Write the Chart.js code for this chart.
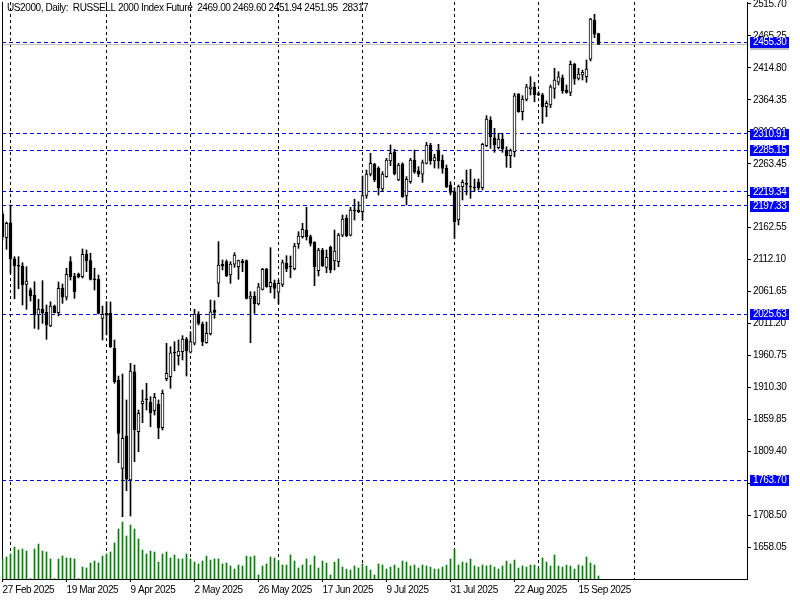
<!DOCTYPE html>
<html>
<head>
<meta charset="utf-8">
<script src="https://cdn.jsdelivr.net/npm/chart.js@4.4.1/dist/chart.umd.min.js"></script>
<style>
html,body{margin:0;padding:0;background:#ffffff;}
#wrap{width:800px;height:600px;position:relative;}
canvas{display:block;}
</style>
</head>
<body>
<div id="wrap"><canvas id="c" width="800" height="600"></canvas></div>
<script>
// ---------------- data ----------------
const chartTitle = 'US2000, Daily:  RUSSELL 2000 Index Future  2469.00 2469.60 2451.94 2451.95  28317';

const xTickBars   = [0, 16, 32, 48, 64, 80, 96, 112, 128, 144];
const xTickLabels = ['27 Feb 2025', '19 Mar 2025', '9 Apr 2025', '2 May 2025', '26 May 2025',
                     '17 Jun 2025', '9 Jul 2025', '31 Jul 2025', '22 Aug 2025', '15 Sep 2025'];
const periodGridBars = [2, 26, 47, 69, 90, 113, 134, 158];

const yTicks = [1658.05, 1708.50, 1758.95, 1809.40, 1859.85, 1910.30, 1960.75, 2011.20, 2061.65,
                2112.10, 2162.55, 2213.00, 2263.45, 2313.90, 2364.35, 2414.80, 2465.25, 2515.70];

const levelPrices = [2455.30, 2310.91, 2285.15, 2219.34, 2197.33, 2025.63, 1763.70];
const bidPrice = 2451.95;

const opens = [
2184.2,2146.8,2170.4,2113.6,2103.0,2102.1,2073.2,2064.2,2056.3,2024.7,
2034.2,2029.0,2007.4,2038.9,2028.4,2066.9,2052.7,2108.9,2086.3,2089.5,
2085.2,2120.6,2110.5,2081.1,2081.1,2019.5,2027.4,2027.4,1972.2,1922.1,
1782.7,1833.7,1764.3,1935.2,1840.5,1884.7,1891.7,1887.4,1873.7,1884.2,
1846.8,1924.2,1927.3,1965.2,1960.5,1966.8,1986.9,1965.9,1980.1,2026.3,
2010.5,1981.0,1994.7,2032.6,2074.8,2104.8,2108.9,2087.9,2104.8,2101.0,
2110.0,2110.5,2051.1,2054.7,2042.1,2065.3,2097.4,2069.4,2075.3,2060.6,
2073.2,2106.4,2101.0,2097.8,2136.8,2148.4,2158.9,2148.4,2139.5,2094.7,
2127.4,2100.0,2131.6,2110.0,2108.9,2150.6,2177.4,2150.6,2189.4,2190.5,
2187.8,2213.7,2246.9,2263.1,2256.3,2223.6,2243.1,2267.8,2282.5,2237.9,
2263.1,2212.6,2235.2,2269.4,2252.5,2246.9,2264.2,2293.1,2267.8,2283.6,
2269.4,2256.3,2229.9,2219.4,2174.7,2227.3,2231.5,2227.3,2225.7,2234.2,
2225.7,2292.0,2332.6,2304.6,2288.8,2302.6,2285.2,2276.2,2282.5,2373.1,
2345.7,2365.2,2381.5,2384.7,2373.1,2372.0,2353.6,2356.2,2382.6,2392.1,
2399.3,2379.9,2376.3,2420.5,2398.4,2403.6,2400.9,2428.4,2490.4,2469.00];

const highs = [
2188.9,2171.6,2198.4,2116.8,2116.8,2107.3,2101.0,2067.4,2077.3,2049.5,
2078.9,2040.5,2045.7,2040.5,2076.8,2073.7,2098.5,2116.8,2090.6,2091.0,
2128.9,2127.4,2122.1,2098.5,2087.9,2038.9,2045.7,2045.3,1985.3,1928.4,
1931.6,1890.6,1948.5,1945.8,1874.8,1906.3,1916.9,1895.8,1901.1,1890.6,
1906.3,1980.1,1974.7,1982.6,1985.3,1992.1,1989.5,1998.4,2033.7,2029.9,
2013.7,2013.7,2048.4,2047.3,2140.5,2111.6,2111.6,2108.9,2123.1,2111.6,
2112.7,2111.6,2061.5,2061.5,2074.8,2098.5,2098.5,2131.0,2080.0,2080.0,
2111.6,2118.4,2117.9,2137.9,2156.2,2169.5,2194.8,2151.0,2140.5,2130.0,
2130.0,2127.4,2133.7,2158.9,2153.7,2182.6,2182.6,2194.8,2207.4,2203.6,
2244.2,2253.6,2280.0,2264.2,2258.8,2251.0,2272.1,2293.1,2286.3,2264.2,
2265.2,2243.1,2272.1,2285.2,2258.8,2269.4,2297.4,2295.8,2278.4,2294.2,
2277.3,2261.5,2235.2,2225.7,2229.9,2237.9,2253.6,2254.7,2239.4,2239.4,
2295.8,2339.4,2337.8,2319.5,2311.6,2311.6,2290.4,2286.8,2374.7,2374.7,
2370.9,2388.9,2400.9,2392.1,2377.2,2374.7,2362.6,2387.8,2414.2,2408.8,
2403.6,2387.8,2425.7,2422.1,2414.2,2411.5,2427.3,2493.1,2499.4,2469.60];

const lows = [
2143.1,2128.4,2090.6,2050.5,2066.3,2040.5,2033.7,2046.8,2003.7,2002.2,
2011.6,1986.4,2006.3,2027.9,2023.2,2043.2,2048.4,2080.0,2051.1,2083.1,
2083.1,2093.1,2080.0,2064.2,2026.3,1985.3,1993.2,1973.4,1916.9,1791.6,
1706.3,1747.4,1707.4,1793.2,1808.9,1854.7,1874.8,1848.4,1866.9,1829.5,
1843.2,1921.0,1909.0,1936.8,1945.8,1953.7,1928.4,1964.7,1977.4,2009.0,
1976.3,1980.1,1993.2,2019.5,2053.6,2095.8,2085.2,2074.8,2100.0,2081.1,
2093.1,2050.0,1981.0,2027.4,2040.5,2064.2,2068.5,2059.9,2051.1,2042.1,
2069.4,2093.1,2083.6,2095.8,2130.0,2146.0,2143.1,2133.7,2071.0,2086.3,
2101.0,2091.5,2091.5,2095.8,2101.0,2148.4,2148.4,2149.4,2174.7,2186.3,
2174.7,2209.0,2244.2,2235.2,2214.2,2219.4,2242.1,2260.4,2245.8,2236.7,
2210.5,2198.4,2232.6,2248.4,2243.1,2234.2,2263.1,2262.6,2256.8,2256.3,
2248.4,2225.7,2214.2,2146.0,2166.8,2206.3,2214.2,2209.0,2219.4,2222.1,
2222.1,2290.4,2287.9,2281.6,2286.8,2281.6,2257.9,2257.3,2274.6,2344.7,
2332.6,2362.6,2372.0,2361.5,2370.9,2327.4,2337.8,2352.0,2366.8,2387.8,
2374.7,2374.7,2370.9,2388.9,2395.7,2395.7,2392.1,2425.7,2462.5,2451.94];

const closes = [
2147.9,2169.5,2113.6,2102.1,2102.0,2072.1,2078.4,2054.7,2024.7,2034.2,
2028.4,2009.0,2038.9,2028.4,2066.9,2052.7,2089.0,2085.2,2061.5,2085.2,
2120.6,2110.5,2081.1,2080.3,2027.4,2025.8,2024.3,1974.7,1919.4,1838.0,
1830.1,1765.4,1936.3,1843.2,1869.6,1889.0,1891.0,1870.5,1894.8,1846.8,
1901.1,1932.7,1965.2,1964.7,1967.9,1986.9,1968.4,1982.6,2026.3,2011.6,
1982.6,1995.8,2029.9,2029.0,2103.7,2102.1,2086.8,2105.2,2119.5,2110.5,
2106.8,2051.1,2054.7,2042.1,2069.4,2096.9,2069.4,2076.4,2066.9,2074.8,
2107.3,2097.4,2100.5,2133.7,2149.4,2160.0,2148.4,2137.9,2101.0,2127.4,
2102.6,2115.8,2095.8,2125.8,2151.0,2176.3,2149.9,2190.5,2188.9,2187.4,
2213.1,2247.3,2264.2,2237.9,2225.7,2247.3,2269.4,2280.0,2247.3,2261.5,
2211.5,2238.9,2269.4,2251.0,2246.9,2265.2,2293.1,2268.3,2273.1,2268.3,
2256.3,2227.3,2218.4,2172.0,2227.3,2234.2,2231.0,2226.8,2225.2,2225.7,
2294.2,2334.1,2306.2,2293.1,2302.6,2286.8,2276.2,2284.1,2370.9,2345.7,
2365.7,2385.1,2385.1,2372.0,2372.6,2353.6,2358.9,2385.1,2395.7,2400.9,
2378.8,2376.3,2420.5,2397.3,2405.2,2407.9,2413.1,2492.0,2467.9,2451.95];

// tick volume, thousands
const volumes = [
189,208,236,302,274,283,264,3,283,330,
264,255,189,3,189,217,198,198,189,3,
113,104,151,170,151,217,236,255,340,472,
538,406,510,472,378,274,236,264,255,160,
236,255,198,227,189,189,236,189,160,142,
170,217,179,189,189,142,151,123,94,132,
123,217,208,217,38,123,142,208,198,170,
132,132,227,170,104,132,189,132,217,104,
170,151,38,160,189,113,94,85,123,104,
142,123,85,38,142,132,94,113,132,104,
170,160,123,132,104,132,123,113,94,94,
113,132,189,283,132,160,151,189,123,113,
132,123,132,113,94,123,170,142,179,104,
123,113,132,132,104,198,160,123,227,123,
113,132,123,94,132,123,208,151,132,28.3];

// ---------------- layout constants ----------------
const FONT = '"Liberation Sans", Arial, sans-serif';
const FONT_SIZE = 10;
const LETTER_SPACING = '-0.4px';
const X_MIN = -0.125, X_MAX = 186.125;
const Y_MIN = 1608.0, Y_MAX = 2518.84;
const VOL_MAX = 5447;
const BLUE = '#0000ff';

Chart.defaults.font.family = FONT;
Chart.defaults.font.size = FONT_SIZE;
Chart.defaults.color = '#000000';

const bodyData = opens.map((o, i) => ({x: i, y: [o, closes[i]]}));
const wickData = lows.map((l, i) => ({x: i, y: [l, highs[i]]}));
const volData  = volumes.map((v, i) => ({x: i, y: v}));
const bodyColors = opens.map((o, i) => closes[i] >= o ? '#ffffff' : '#000000');

function noPad(s) { s.paddingTop = 0; s.paddingBottom = 0; s.paddingLeft = 0; s.paddingRight = 0; }

const spacingPlugin = {
  id: 'spacing',
  beforeDraw(chart) { chart.ctx.letterSpacing = LETTER_SPACING; }
};

const overlayPlugin = {
  id: 'overlay',
  afterDraw(chart) {
    const ctx = chart.ctx;
    const ys = chart.scales.y;
    ctx.save();
    ctx.letterSpacing = LETTER_SPACING;
    ctx.font = FONT_SIZE + 'px ' + FONT;
    ctx.textBaseline = 'top';
    ctx.textAlign = 'left';
    ctx.fillStyle = '#000000';
    ctx.fillText(chartTitle, 7, 3);

    ctx.textBaseline = 'middle';
    const yb = Math.round(ys.getPixelForValue(bidPrice));
    ctx.fillStyle = '#c0c0c0';
    ctx.fillRect(750, yb - 5, 39, 11);
    ctx.fillStyle = '#000000';
    ctx.fillText(bidPrice.toFixed(2), 753, yb + 0.5);

    levelPrices.forEach(p => {
      const y = Math.round(ys.getPixelForValue(p));
      ctx.fillStyle = BLUE;
      ctx.fillRect(750, y - 5, 39, 11);
      ctx.fillStyle = '#ffffff';
      ctx.fillText(p.toFixed(2), 753, y + 0.5);
    });
    ctx.restore();
  }
};

new Chart(document.getElementById('c'), {
  type: 'bar',
  data: {
    datasets: [
      {type: 'bar', label: 'body', data: bodyData, xAxisID: 'x', yAxisID: 'y',
       backgroundColor: bodyColors, borderColor: '#000000', borderWidth: 1, borderSkipped: false,
       barThickness: 3, grouped: false, minBarLength: 1, clip: 0, order: 1},
      {type: 'bar', label: 'wick', data: wickData, xAxisID: 'x', yAxisID: 'y',
       backgroundColor: '#000000', borderWidth: 0, barThickness: 1, grouped: false, clip: 0, order: 2},
      {type: 'bar', label: 'volume', data: volData, xAxisID: 'x', yAxisID: 'yVol',
       backgroundColor: '#008000', borderWidth: 0, barThickness: 1, grouped: false, clip: 0, order: 3}
    ]
  },
  options: {
    responsive: false,
    devicePixelRatio: 1,
    animation: false,
    events: [],
    layout: {padding: {left: 2, top: 2, right: 0, bottom: 0}},
    plugins: {legend: {display: false}, tooltip: {enabled: false}, title: {display: false}},
    scales: {
      x: {
        type: 'linear', position: 'bottom', min: X_MIN, max: X_MAX, offset: false,
        grid: {display: true, offset: false, drawOnChartArea: false, drawTicks: true, tickLength: 3, color: '#000000'},
        border: {display: true, color: '#000000', width: 1},
        ticks: {autoSkip: false, maxRotation: 0, minRotation: 0, align: 'start', padding: 2, color: '#000000',
                font: {family: FONT, size: FONT_SIZE},
                callback: (v) => { const k = xTickBars.indexOf(v); return k >= 0 ? xTickLabels[k] : ''; }},
        afterBuildTicks: (s) => { s.ticks = xTickBars.map(v => ({value: v})); },
        afterFit: (s) => { s.height = 21; noPad(s); }
      },
      xGrid: {
        type: 'linear', position: 'top', min: X_MIN, max: X_MAX, offset: false,
        grid: {display: true, offset: false, drawOnChartArea: true, drawTicks: false, color: '#000000', lineWidth: 1},
        border: {display: false, dash: [3, 3]},
        ticks: {display: false},
        afterBuildTicks: (s) => { s.ticks = periodGridBars.map(v => ({value: v})); },
        afterFit: (s) => { s.height = 0; noPad(s); }
      },
      yLevels: {
        type: 'linear', position: 'right', weight: -2, z: 1, min: Y_MIN, max: Y_MAX,
        grid: {display: true, drawOnChartArea: true, drawTicks: false, color: BLUE, lineWidth: 1},
        border: {display: false, dash: [4, 3]},
        ticks: {display: false},
        afterBuildTicks: (s) => { s.ticks = levelPrices.map(v => ({value: v})); },
        afterFit: (s) => { s.width = 0; noPad(s); }
      },
      yBid: {
        type: 'linear', position: 'right', weight: -1, z: 1, min: Y_MIN, max: Y_MAX,
        grid: {display: true, drawOnChartArea: true, drawTicks: false, color: '#c0c0c0', lineWidth: 1},
        border: {display: false},
        ticks: {display: false},
        afterBuildTicks: (s) => { s.ticks = [{value: bidPrice}]; },
        afterFit: (s) => { s.width = 0; noPad(s); }
      },
      y: {
        type: 'linear', position: 'right', weight: 0, min: Y_MIN, max: Y_MAX, beginAtZero: false,
        grid: {display: true, drawOnChartArea: false, drawTicks: true, tickLength: 4, color: '#000000'},
        border: {display: true, color: '#000000', width: 1},
        ticks: {autoSkip: false, padding: 2, color: '#000000', font: {family: FONT, size: FONT_SIZE},
                callback: (v) => Number(v).toFixed(2)},
        afterBuildTicks: (s) => { s.ticks = yTicks.map(v => ({value: v})); },
        afterFit: (s) => { s.width = 53; noPad(s); }
      },
      yL: {
        type: 'linear', position: 'left', min: Y_MIN, max: Y_MAX,
        grid: {display: false}, ticks: {display: false},
        border: {display: true, color: '#000000', width: 1},
        afterFit: (s) => { s.width = 0; noPad(s); }
      },
      yVol: {type: 'linear', display: false, min: 0, max: VOL_MAX}
    }
  },
  plugins: [spacingPlugin, overlayPlugin]
});
</script>
</body>
</html>
